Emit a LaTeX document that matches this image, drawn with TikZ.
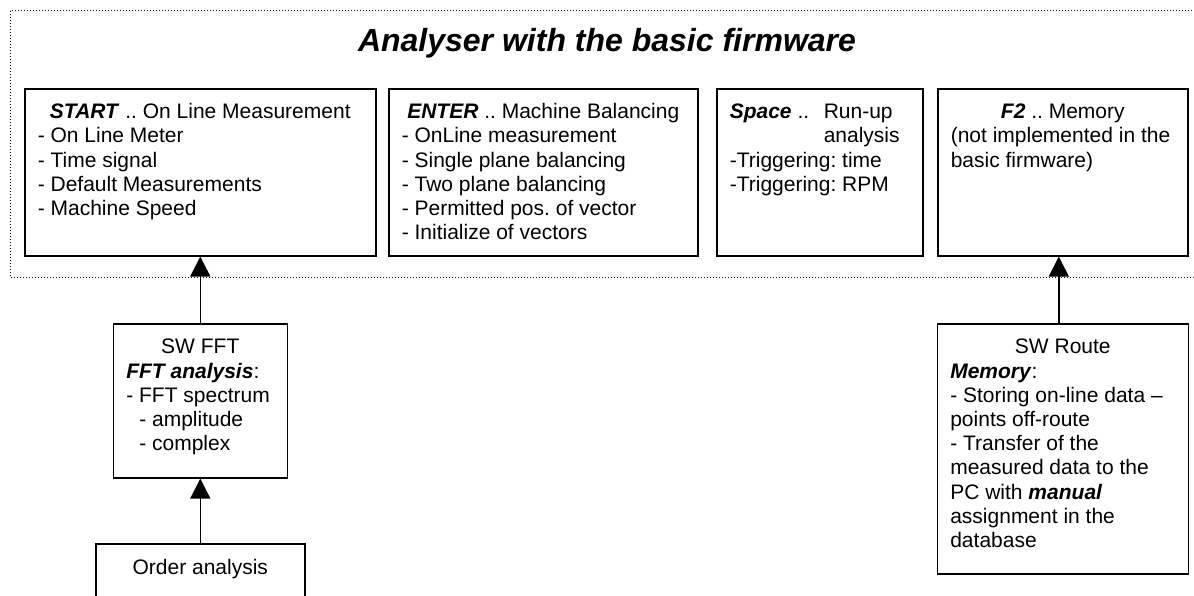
\documentclass[tikz,border=0pt]{standalone}
\usepackage{fontspec}
\setmainfont{Liberation Sans}
\usetikzlibrary{positioning,arrows.meta}
\tikzset{keybox/.style={draw, line width=1.6pt, inner xsep=13pt, inner ysep=0pt, font=\fontsize{21}{24.2}\selectfont\frenchspacing},
uparrow/.style={line width=1.5pt, -{Triangle[width=20pt,length=20pt]}},}
\newcommand{\keyname}[1]{\textbf{\textit{#1}}}

\begin{document}
\begin{tikzpicture}[x=1pt, y=-1pt]
\useasboundingbox (0,0) rectangle (1194,596);
\draw[line width=1pt, dash pattern=on 1pt off 2pt] (10,11) rectangle (1220,277);
\node[font=\fontsize{32}{38}\selectfont\bfseries\itshape, anchor=base] (title) at (607,52) {Analyser with the basic firmware};
% the four keys
\node[keybox, anchor=north west] (start) at (24,88) {\parbox[c][167pt][t]{325pt}{\centering\rule{0pt}{30pt}\keyname{START} .. On Line Measurement\par\raggedright
- On Line Meter\\
- Time signal\\
- Default Measurements\\
- Machine Speed}};
\node[keybox, right=11.4pt of start] (enter) {\parbox[c][167pt][t]{283pt}{\centering\rule{0pt}{30pt}\keyname{ENTER} .. Machine Balancing\par\raggedright
- OnLine measurement\\
- Single plane balancing\\
- Two plane balancing\\
- Permitted pos. of vector\\
- Initialize of vectors}};
\node[keybox, right=17.4pt of enter] (space) {\parbox[c][167pt][t]{180pt}{\raggedright\rule{0pt}{30pt}\makebox[94pt][l]{\keyname{Space} ..}Run-up\\
\hspace*{94pt}analysis\\
-Triggering: time\\
-Triggering: RPM}};
\node[keybox, right=13.4pt of space] (mem) {\parbox[c][167pt][t]{224pt}{\centering\rule{0pt}{30pt}\keyname{F2} .. Memory\par\raggedright
(not implemented in the\\
basic firmware)}};
% software modules
\node[keybox, below=66.4pt of start] (fft) {\parbox[c][154pt][t]{148pt}{\centering\rule{0pt}{30pt}SW FFT\par\raggedright
\keyname{FFT analysis}:\\
- FFT spectrum\\
\hspace*{13pt}- amplitude\\
\hspace*{13pt}- complex}};
\node[keybox, below=64.4pt of fft] (order) {\parbox[c][80pt][t]{183pt}{\centering\rule{0pt}{31pt}Order analysis}};
\node[keybox, below=66.4pt of mem] (route) {\parbox[c][250pt][t]{225pt}{\centering\rule{0pt}{30pt}SW Route\par\raggedright
\keyname{Memory}:\\
- Storing on-line data --\\
points off-route\\
- Transfer of the\\
measured data to the\\
PC with \keyname{manual}\\
assignment in the\\
database}};
\draw[uparrow] (order) -- (fft);
\draw[uparrow] (fft) -- (start);
\draw[uparrow] ([xshift=-4pt]route.north) -- ([xshift=-4pt]mem.south);
\end{tikzpicture}
\end{document}
